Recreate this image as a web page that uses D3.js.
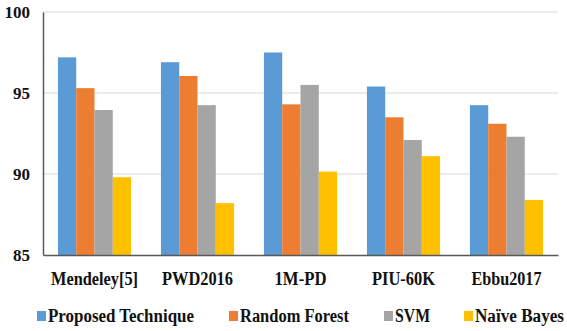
<!DOCTYPE html>
<html><head><meta charset="utf-8">
<script src="https://cdn.jsdelivr.net/npm/d3@7"></script>
<style>body{margin:0;background:#fff}svg{display:block}</style>
</head><body>
<script>
const categories = ["Mendeley[5]", "PWD2016", "1M-PD", "PIU-60K", "Ebbu2017"];
const seriesNames = ["Proposed Technique", "Random Forest", "SVM", "Naïve Bayes"];
const colors = ["#5B9BD5", "#ED7D31", "#A5A5A5", "#FFC000"];
const proposed = [97.2, 96.9, 97.5, 95.4, 94.25];
const randomForest = [95.3, 96.05, 94.3, 93.5, 93.1];
const svmVals = [93.95, 94.25, 95.5, 92.1, 92.3];
const naiveBayes = [89.8, 88.2, 90.15, 91.1, 88.4];
const yTicks = [85, 90, 95, 100];
const series = [proposed, randomForest, svmVals, naiveBayes];

const FONT = "Liberation Serif";
const W = 567, H = 331;
const m = {left: 43, right: 9, top: 12, bottom: 76};
const svg = d3.select("body").append("svg").attr("width", W).attr("height", H)
  .attr("font-family", FONT);

const x0 = d3.scaleBand().domain(categories).range([m.left, W - m.right]).paddingInner(0.29).paddingOuter(0.145);
const x1 = d3.scaleBand().domain(seriesNames).range([0, x0.bandwidth()]);
const y = d3.scaleLinear().domain([85, 100]).range([H - m.bottom, m.top]);

// gridlines
svg.append("g").selectAll("line").data(yTicks.filter(t => t > 85)).join("line")
  .attr("x1", m.left).attr("x2", W - m.right)
  .attr("y1", d => y(d)).attr("y2", d => y(d))
  .attr("stroke", "#d9d9d9").attr("stroke-width", 1);

// bars
const g = svg.append("g");
categories.forEach((c, ci) => {
  series.forEach((s, si) => {
    g.append("rect")
      .attr("x", x0(c) + x1(seriesNames[si]))
      .attr("width", x1.bandwidth())
      .attr("y", y(s[ci]))
      .attr("height", y(85) - y(s[ci]))
      .attr("fill", colors[si]);
  });
});

function styleText(sel, size) {
  sel.attr("font-family", FONT).attr("font-weight", "bold").attr("font-size", size)
    .attr("fill", "#111");
}

// axes
const yAxis = d3.axisLeft(y).tickValues(yTicks).tickSize(0).tickPadding(13).tickFormat(d3.format("d"));
const ya = svg.append("g").attr("transform", `translate(${m.left},0)`).call(yAxis);
ya.attr("font-family", FONT);
ya.select(".domain").attr("stroke", "#595959").attr("stroke-width", 1.5);
styleText(ya.selectAll("text"), 17);

const catLen = [87, 71, 52, 63, 70];
const xAxis = d3.axisBottom(x0).tickSize(0).tickPadding(0);
const xa = svg.append("g").attr("transform", `translate(0,${H - m.bottom})`).call(xAxis);
xa.attr("font-family", FONT);
xa.select(".domain").attr("stroke", "#595959").attr("stroke-width", 1.5);
const xt = xa.selectAll("text").attr("y", 30).attr("dy", null)
  .attr("textLength", (d, i) => catLen[i]).attr("lengthAdjust", "spacingAndGlyphs");
styleText(xt, 18);

// legend
const legendX = [37, 229, 384, 464];
const legLen = [146, 109, 35, 89];
const leg = svg.append("g");
seriesNames.forEach((n, i) => {
  leg.append("rect").attr("x", legendX[i]).attr("y", 311).attr("width", 9).attr("height", 10).attr("fill", colors[i]);
  const t = leg.append("text").attr("x", legendX[i] + 11).attr("y", 322)
    .attr("textLength", legLen[i]).attr("lengthAdjust", "spacingAndGlyphs").text(n);
  styleText(t, 18);
});
</script>
</body></html>
